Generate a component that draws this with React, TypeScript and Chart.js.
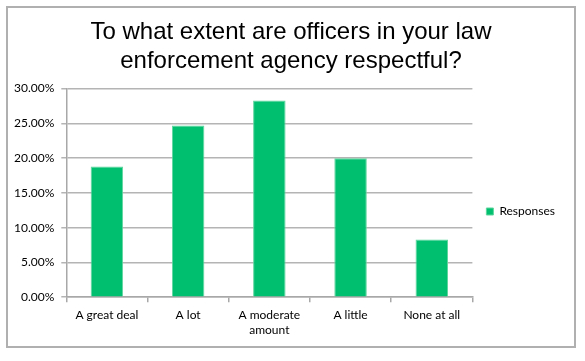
import React, { useEffect, useRef } from "react";
import { Chart, registerables } from "chart.js";

Chart.register(...registerables);

const titleLines = ["To what extent are officers in your law", "enforcement agency respectful?"];
const categories: (string | string[])[] = ["A great deal", "A lot", ["A moderate", "amount"], "A little", "None at all"];
const seriesName = "Responses";
const responses = [18.8, 24.7, 28.3, 20.0, 8.3];
const yMin = 0;
const yMax = 30;
const yStep = 5;

const titleShift = {
  id: "titleShift",
  afterLayout(chart: any) {
    const t = chart.titleBlock;
    if (t) {
      t.left += 5;
      t.right += 5;
    }
  },
};

export default function App() {
  const ref = useRef<HTMLCanvasElement | null>(null);
  useEffect(() => {
    if (!ref.current) return;
    const axisFont = { family: "Lato", size: 12 };
    const chart = new Chart(ref.current, {
      type: "bar",
      data: {
        labels: categories,
        datasets: [
          {
            label: seriesName,
            data: responses,
            backgroundColor: "#00BF6F",
            borderColor: "#5fd69e",
            borderWidth: 1,
            categoryPercentage: 1,
            barPercentage: 0.4,
          },
        ],
      },
      plugins: [titleShift],
      options: {
        animation: false,
        responsive: false,
        maintainAspectRatio: false,
        layout: { padding: { left: 7, right: 20, top: 0, bottom: 18 } },
        plugins: {
          title: {
            display: true,
            text: titleLines,
            color: "#000",
            font: { family: "Liberation Sans", size: 24, weight: "normal", lineHeight: 1.2 },
            padding: { top: 18, bottom: 13 },
          },
          legend: {
            display: true,
            position: "right",
            title: {
              display: true,
              text: " ",
              font: { family: "Lato", size: 10, lineHeight: 1.2 },
              padding: { top: 68, bottom: 0 },
            },
            labels: {
              boxWidth: 7,
              boxHeight: 7,
              padding: 14,
              color: "#000",
              font: axisFont,
            },
          },
          tooltip: { enabled: false },
        },
        scales: {
          x: {
            offset: true,
            grid: {
              offset: true,
              drawOnChartArea: false,
              drawTicks: true,
              tickLength: 5,
              color: "#a8a8a8",
              lineWidth: 1.5,
            },
            border: { color: "#a8a8a8", width: 1.5 },
            ticks: { color: "#000", font: axisFont, padding: 6, maxRotation: 0, autoSkip: false },
          },
          y: {
            min: yMin,
            max: yMax,
            grid: { color: "#b4b4b4", lineWidth: 1.5, tickLength: 5 },
            border: { color: "#a8a8a8", width: 1.5 },
            ticks: {
              stepSize: yStep,
              color: "#000",
              font: axisFont,
              padding: 7,
              callback: (v: any) => Number(v).toFixed(2) + "%",
            },
          },
        },
      },
    });
    return () => chart.destroy();
  }, []);
  return (
    <div style={{ position: "absolute", left: 0, top: 0, width: 585, height: 361, background: "#fff" }}>
      <div
        style={{
          position: "absolute",
          left: 6,
          top: 6,
          width: 566,
          height: 338,
          border: "2px solid #b0b0b0",
        }}
      />
      <canvas ref={ref} width={585} height={361} style={{ position: "absolute", left: 0, top: 0, width: 585, height: 361 }} />
    </div>
  );
}
